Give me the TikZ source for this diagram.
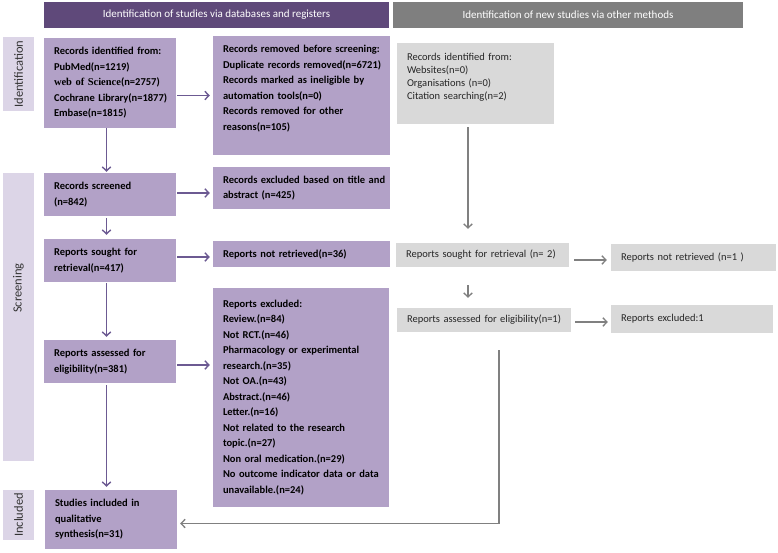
\documentclass[tikz,border=0pt]{standalone}
\usepackage{fontspec}
\setmainfont{Carlito}
\newfontfamily\wosfont{Liberation Serif}
\usetikzlibrary{arrows.meta,calc}
\definecolor{hdrP}{HTML}{5F497A}
\definecolor{hdrG}{HTML}{7F7F7F}
\definecolor{boxP}{HTML}{B2A1C7}
\definecolor{sideP}{HTML}{DCD5E7}
\definecolor{boxG}{HTML}{D9D9D9}
\definecolor{arrP}{HTML}{6C5A92}
\definecolor{arrG}{HTML}{808080}
\tikzset{
 hdr/.style={inner sep=0pt, text=white, font=\fontsize{11}{13}\selectfont},
 sidelab/.style={fill=sideP, inner sep=0pt, rotate=90, font=\fontsize{12.5}{14}\selectfont, text=black!80},
 pbox/.style={fill=boxP, inner xsep=10pt, inner ysep=0pt, align=left, font=\fontsize{10.5}{15.5}\selectfont\bfseries, text=black},
 gbox/.style={fill=boxG, inner xsep=10pt, inner ysep=0pt, align=left, font=\fontsize{10.5}{13}\selectfont, text=black!85},
 parr/.style={draw=arrP, line width=1.4pt, -{Straight Barb[length=4pt,width=8.5pt]}},
 garr/.style={draw=arrG, line width=1.3pt, -{Straight Barb[length=4pt,width=8.5pt]}},
}
\newcommand{\boxat}[7]{%
 \pgfmathsetmacro{\bw}{#5-#3}\pgfmathsetmacro{\bh}{#6-#4}\pgfmathsetmacro{\tw}{#5-#3-20}%
 \node[#1, minimum width=\bw pt, minimum height=\bh pt, text width=\tw pt] (#2) at ({(#3+#5)/2},{(#4+#6)/2}) {#7};}
\newcommand{\barat}[7]{%
 \pgfmathsetmacro{\bw}{#5-#3}\pgfmathsetmacro{\bh}{#6-#4}%
 \node[#1, minimum width=\bw pt, minimum height=\bh pt] (#2) at ({(#3+#5)/2},{(#4+#6)/2}) {#7};}
\newcommand{\sideat}[6]{%
 \pgfmathsetmacro{\bw}{#4-#2}\pgfmathsetmacro{\bh}{#5-#3}%
 \node[sidelab, minimum width=\bh pt, minimum height=\bw pt] (#1) at ({(#2+#4)/2},{(#3+#5)/2}) {#6};}
\begin{document}
\begin{tikzpicture}[x=1pt,y=-1pt]
\useasboundingbox[fill=white] (0,0) rectangle (778,552);
% headers
\barat{hdr, fill=hdrP}{h1}{44}{2}{389}{28}{Identification of studies via databases and registers}
\barat{hdr, fill=hdrG}{h2}{393}{2}{743}{28}{Identification of new studies via other methods}
% side labels
\sideat{sI}{3}{37}{34}{111}{Identification}
\sideat{sS}{3}{173}{34}{461}{\hspace*{58pt}Screening}
\sideat{sN}{3}{490}{34}{540}{Included}
% left column
\boxat{pbox}{A}{44}{38}{176}{128}{\mbox{Records identified from:}\\\mbox{PubMed(n=1219)}\\\mbox{{\wosfont web of Science}(n=2757)}\\\mbox{Cochrane Library(n=1877)}\\\mbox{Embase(n=1815)}}
\boxat{pbox}{B}{213}{36}{390}{155}{\mbox{Records removed before screening:}\\\mbox{Duplicate records removed(n=6721)}\\\mbox{Records marked as ineligible by}\\\mbox{automation tools(n=0)}\\\mbox{Records removed for other}\\\mbox{reasons(n=105)}\rule[-15.5pt]{0pt}{0pt}}
\boxat{pbox}{C}{44}{173}{176}{216}{\mbox{Records screened}\\\mbox{(n=842)}}
\boxat{pbox}{D}{213}{167}{390}{209}{\mbox{Records excluded based on title and}\\\mbox{abstract (n=425)}}
\boxat{pbox}{E}{44}{239}{176}{282}{\mbox{Reports sought for}\\\mbox{retrieval(n=417)}}
\boxat{pbox}{F}{213}{241}{390}{267}{\mbox{Reports not retrieved(n=36)}}
\boxat{pbox}{G}{44}{340}{176}{383}{\mbox{Reports assessed for}\\\mbox{eligibility(n=381)}}
\boxat{pbox}{H}{213}{288}{389}{507}{\mbox{Reports excluded:}\\\mbox{Review.(n=84)}\\\mbox{Not RCT.(n=46)}\\\mbox{Pharmacology or experimental}\\\mbox{research.(n=35)}\\\mbox{Not OA.(n=43)}\\\mbox{Abstract.(n=46)}\\\mbox{Letter.(n=16)}\\\mbox{Not related to the research}\\\mbox{topic.(n=27)}\\\mbox{Non oral medication.(n=29)}\\\mbox{No outcome indicator data or data}\\\mbox{unavailable.(n=24)}}
\boxat{pbox}{I}{45}{490}{177}{549}{\mbox{Studies included in}\\\mbox{qualitative}\\\mbox{synthesis(n=31)}}
% right column
\boxat{gbox}{J}{397}{43}{554}{124}{\mbox{Records identified from:}\\\mbox{Websites(n=0)}\\\mbox{Organisations (n=0)}\\\mbox{Citation searching(n=2)}\rule[-14.5pt]{0pt}{0pt}}
\boxat{gbox}{K}{396}{243}{569}{267}{\mbox{Reports sought for retrieval (n= 2)}}
\boxat{gbox}{L}{611}{244}{776}{271}{\mbox{Reports not retrieved (n=1 )}}
\boxat{gbox}{M}{397}{308}{571}{332}{\mbox{Reports assessed for eligibility(n=1)}}
\boxat{gbox}{N}{611}{305}{773}{333}{\mbox{Reports excluded:1}}
% connector anchor points
\coordinate (aS) at ($(A.south)+(-3.5,0)$);
\coordinate (cN) at ($(C.north)+(-3.5,0)$);
\coordinate (cS) at ($(C.south)+(-3.5,0)$);
\coordinate (eN) at ($(E.north)+(-3.5,0)$);
\coordinate (eS) at ($(E.south)+(-3.5,0)$);
\coordinate (gN) at ($(G.north)+(-3.5,0)$);
\coordinate (gS) at ($(G.south)+(-3.5,0)$);
\coordinate (iN) at ($(I.north)+(-4.5,0)$);
\coordinate (cE) at ($(C.east)+(0,-1.5)$);
\coordinate (eE) at ($(E.east)+(0,-3.5)$);
\coordinate (gE) at ($(G.east)+(0,3.5)$);
\coordinate (jS) at ($(J.south)+(-7.5,0)$);
\coordinate (kS) at ($(K.south)+(-14.5,0)$);
\coordinate (kE) at ($(K.east)+(0,5)$);
\coordinate (mE) at ($(M.east)+(0,2)$);
\coordinate (mS) at ($(M.south)+(15,0)$);
\coordinate (iE) at ($(I.east)+(0,4)$);
% purple arrows
\draw[parr, shorten >=1pt] (aS) -- (cN);
\draw[parr, shorten <=2pt, shorten >=4pt] (cS) -- (eN);
\draw[parr, shorten <=1pt, shorten >=3pt] (eS) -- (gN);
\draw[parr, shorten <=2pt, shorten >=3pt] (gS) -- (iN);
\draw[parr, shorten <=1pt, shorten >=3pt] (A.east |- B.west) -- (B.west);
\draw[parr, shorten <=1pt, shorten >=3pt] (cE) -- (cE -| D.west);
\draw[parr, shorten <=1pt, shorten >=3pt] (eE) -- (eE -| F.west);
\draw[parr, shorten <=1pt, shorten >=3pt] (gE) -- (gE -| H.west);
% gray arrows
\draw[garr, shorten <=3pt, shorten >=14pt] (jS) -- (jS |- K.north);
\draw[garr, shorten <=18pt, shorten >=10pt] (kS) -- (kS |- M.north);
\draw[garr, shorten <=5pt, shorten >=4pt] (kE) -- (kE -| L.west);
\draw[garr, shorten <=4pt, shorten >=3pt] (mE) -- (mE -| N.west);
\draw[garr, shorten <=18pt, shorten >=3pt] (mS) |- (iE);
\end{tikzpicture}
\end{document}
